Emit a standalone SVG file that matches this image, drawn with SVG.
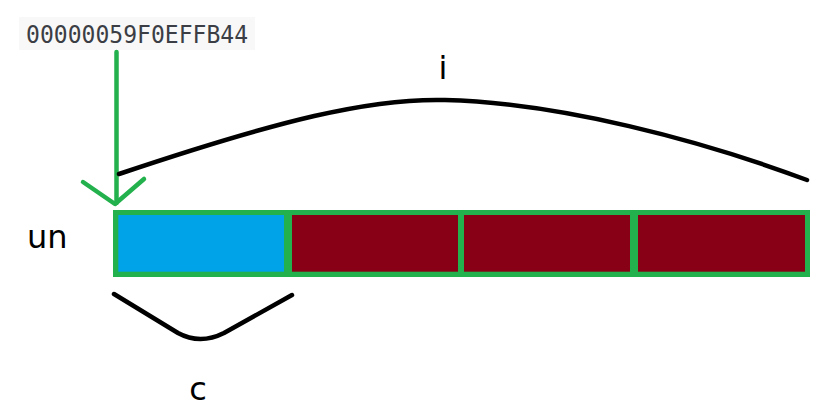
<svg xmlns="http://www.w3.org/2000/svg" width="834" height="420" viewBox="0 0 834 420">
<style>
.lbl{font-family:"DejaVu Sans","Noto Sans",sans-serif;font-size:32px;fill:#000}
.addr{font-family:"DejaVu Sans Mono","Liberation Mono",monospace;font-size:24px;fill:#3b3e45}
.red{fill:#880015}
.brace{fill:none;stroke:#000;stroke-width:4.5;stroke-linecap:round;stroke-linejoin:round}
.grn{fill:none;stroke:#22b14c;stroke-width:4.5;stroke-linecap:round;stroke-linejoin:round}
</style>
<rect x="0" y="0" width="834" height="420" fill="#fff"/>
<g id="address">
<rect x="19" y="17" width="236" height="33" fill="#f8f8f8"/>
<text class="addr" x="26" y="42.5" textLength="222" lengthAdjust="spacingAndGlyphs">00000059F0EFFB44</text>
</g>
<g id="array">
<rect x="113" y="210" width="697" height="67" fill="#22b14c"/>
<g id="cell0"><rect x="118.3" y="215" width="165.7" height="56.7" fill="#00a2e8"/></g>
<g id="cell1"><rect class="red" x="292" y="215" width="166" height="56.7"/></g>
<g id="cell2"><rect class="red" x="464" y="215" width="166" height="56.7"/></g>
<g id="cell3"><rect class="red" x="638" y="215" width="167" height="56.7"/></g>
</g>
<g id="label-un"><text class="lbl" x="27" y="248">un</text></g>
<g id="label-i"><text class="lbl" x="443" y="79" text-anchor="middle">i</text></g>
<g id="label-c"><text class="lbl" x="198" y="400" text-anchor="middle">c</text></g>
<g id="connectors">
<path class="grn" d="M116.5,52 L116.5,203"/>
<path class="grn" d="M83,182 L115,204 L144,179"/>
<path class="brace" d="M119,174 C280,120 370,98 445,100 C560,103 700,140 807,180"/>
<path class="brace" d="M114,294 L178,333 Q200,345 224,333 L292,295"/>
</g>
</svg>
